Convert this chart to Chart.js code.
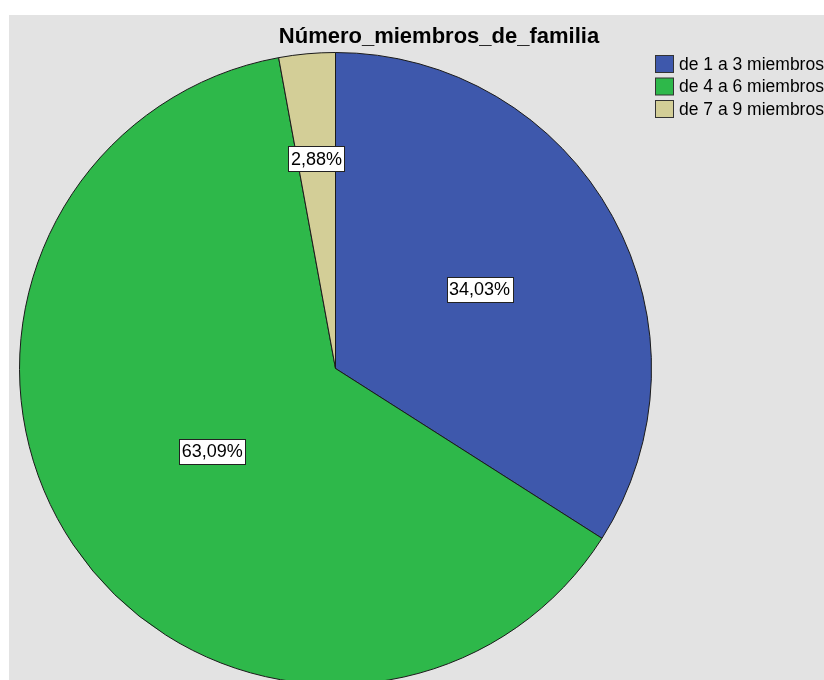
<!DOCTYPE html>
<html>
<head>
<meta charset="utf-8">
<title>Número_miembros_de_familia</title>
<script src="https://cdn.jsdelivr.net/npm/chart.js@4.4.1/dist/chart.umd.min.js"></script>
<style>
  html, body { margin: 0; padding: 0; background: #ffffff; overflow: hidden; }
  body { width: 824px; height: 680px; position: relative; }
  #wrap { position: absolute; left: 9px; top: 15px; width: 815px; height: 670px; background: #e3e3e3; }
</style>
</head>
<body>
<div id="wrap"><canvas id="pieChart"></canvas></div>
<script>
// datos
const chartTitle = "Número_miembros_de_familia";
const categorias = ["de 1 a 3 miembros", "de 4 a 6 miembros", "de 7 a 9 miembros"];
const porcentajes = [34.03, 63.09, 2.88];
const colores = ["#3e58ac", "#2eb84a", "#d3ce97"];
// distancia de cada etiqueta al centro (fraccion del radio)
const radioEtiqueta = [0.52, 0.47, 0.667];

const FONT = "'Liberation Sans', Arial, sans-serif";

// titulo, leyenda y etiquetas dibujados a mano
const extras = {
  id: "extras",
  afterDatasetsDraw(chart) {
    const ctx = chart.ctx;
    const meta = chart.getDatasetMeta(0);

    // etiquetas de porcentaje
    ctx.save();
    ctx.font = "18px " + FONT;
    ctx.textAlign = "center";
    ctx.textBaseline = "middle";
    meta.data.forEach((arc, i) => {
      const p = arc.getProps(["x", "y", "startAngle", "endAngle", "outerRadius"], true);
      const mid = (p.startAngle + p.endAngle) / 2;
      const r = p.outerRadius * radioEtiqueta[i];
      const cx = p.x + Math.cos(mid) * r;
      const cy = p.y + Math.sin(mid) * r;
      const txt = porcentajes[i].toFixed(2).replace(".", ",") + "%";
      const w = ctx.measureText(txt).width + 5;
      const h = 25;
      ctx.fillStyle = "#ffffff";
      ctx.fillRect(Math.round(cx - w / 2) + 0.5, Math.round(cy - h / 2) + 0.5, Math.round(w), h);
      ctx.strokeStyle = "#222222";
      ctx.lineWidth = 1;
      ctx.strokeRect(Math.round(cx - w / 2) + 0.5, Math.round(cy - h / 2) + 0.5, Math.round(w), h);
      ctx.fillStyle = "#000000";
      ctx.fillText(txt, cx, cy + 1);
    });
    ctx.restore();

    // titulo
    ctx.save();
    ctx.font = "bold 22px " + FONT;
    ctx.fillStyle = "#000000";
    ctx.textAlign = "center";
    ctx.textBaseline = "alphabetic";
    ctx.fillText(chartTitle, 430, 28);
    ctx.restore();

    // leyenda
    ctx.save();
    ctx.font = "17.5px " + FONT;
    ctx.textBaseline = "middle";
    ctx.textAlign = "left";
    categorias.forEach((c, i) => {
      const y = 40 + i * 22.5;
      ctx.fillStyle = colores[i];
      ctx.fillRect(646.5, y + 0.5, 18, 17);
      ctx.strokeStyle = "#333333";
      ctx.lineWidth = 1;
      ctx.strokeRect(646.5, y + 0.5, 18, 17);
      ctx.fillStyle = "#000000";
      ctx.fillText(c, 670, y + 10);
    });
    ctx.restore();
  }
};

new Chart(document.getElementById("pieChart"), {
  type: "pie",
  data: {
    labels: categorias,
    datasets: [{
      data: porcentajes,
      backgroundColor: colores,
      borderColor: "#1a1a1a",
      borderWidth: 1
    }]
  },
  options: {
    responsive: true,
    maintainAspectRatio: false,
    animation: false,
    layout: { padding: { left: 10, top: 37, right: 172, bottom: 0 } },
    plugins: {
      legend: { display: false },
      title: { display: false },
      tooltip: { enabled: false }
    }
  },
  plugins: [extras]
});
</script>
</body>
</html>
